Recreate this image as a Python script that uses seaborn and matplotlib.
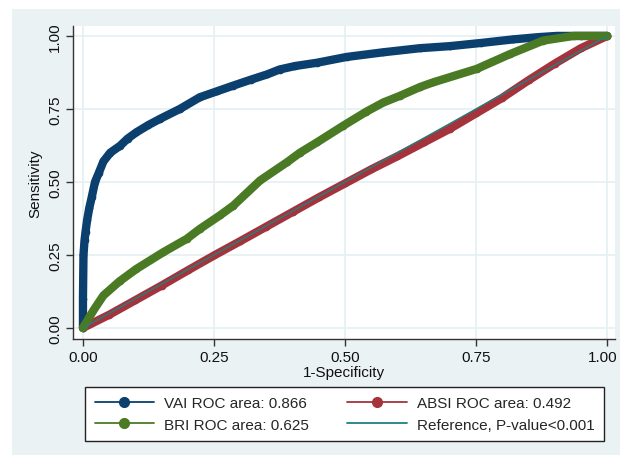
import pandas as pd
import seaborn as sns
import matplotlib.pyplot as plt
from matplotlib.lines import Line2D
from matplotlib.patches import Rectangle
from matplotlib.transforms import ScaledTranslation

sns.set_theme(style="white")
plt.rcParams["font.family"] = ["Liberation Sans", "DejaVu Sans"]

# ROC points
vai_fpr = [0, 0.0, 0.001, 0.003, 0.005, 0.008, 0.012, 0.017, 0.023, 0.030, 0.039, 0.052,
           0.071, 0.085, 0.102, 0.125, 0.147, 0.185, 0.223, 0.255, 0.287, 0.320, 0.351,
           0.375, 0.405, 0.446, 0.503, 0.573, 0.643, 0.700, 0.760, 0.820, 0.870, 0.904, 0.950, 1.0]
vai_tpr = [0, 0.10, 0.25, 0.30, 0.33, 0.37, 0.41, 0.45, 0.50, 0.53, 0.57, 0.60,
           0.624, 0.648, 0.67, 0.695, 0.716, 0.75, 0.79, 0.81, 0.83, 0.85, 0.868,
           0.885, 0.897, 0.908, 0.928, 0.944, 0.958, 0.965, 0.976, 0.988, 0.996, 1.0, 1.0, 1.0]

absi_fpr = [0, 0.05, 0.1, 0.15, 0.2, 0.25, 0.3, 0.35, 0.4, 0.45, 0.5, 0.55, 0.6, 0.65,
            0.7, 0.75, 0.8, 0.85, 0.9, 0.95, 1.0]
absi_tpr = [0, 0.045, 0.095, 0.145, 0.197, 0.248, 0.297, 0.347, 0.397, 0.447, 0.495,
            0.543, 0.588, 0.635, 0.682, 0.735, 0.788, 0.848, 0.905, 0.958, 1.0]

bri_fpr = [0, 0.02, 0.039, 0.07, 0.102, 0.153, 0.198, 0.223, 0.261, 0.287, 0.338, 0.389,
           0.414, 0.446, 0.497, 0.540, 0.573, 0.605, 0.643, 0.668, 0.751, 0.815, 0.878, 0.936, 1.0]
bri_tpr = [0, 0.06, 0.111, 0.16, 0.202, 0.259, 0.305, 0.339, 0.385, 0.419, 0.505, 0.567,
           0.60, 0.635, 0.693, 0.74, 0.772, 0.795, 0.825, 0.841, 0.887, 0.938, 0.984, 1.0, 1.0]

ref_x = [0, 1]
ref_y = [0, 1]

labels = ["VAI ROC area: 0.866", "ABSI ROC area: 0.492",
          "BRI ROC area: 0.625", "Reference, P-value<0.001"]
colors = ["#0b3f6e", "#a5333b", "#4b7a25", "#1f8080"]
ticks = [0, 0.25, 0.5, 0.75, 1.0]
tick_labels = ["0.00", "0.25", "0.50", "0.75", "1.00"]

fig = plt.figure(figsize=(6.2, 4.56), dpi=100)
fig.patch.set_facecolor("white")
fig.patches.append(Rectangle((12 / 620, 0), 1, 1 - 10 / 456, transform=fig.transFigure,
                             facecolor="#eaf2f3", edgecolor="none", zorder=-10))

ax = fig.add_axes([73 / 620, 1 - 340 / 456, (615 - 73) / 620, (340 - 27) / 456])
ax.set_facecolor("white")

curves = [(vai_fpr, vai_tpr), (absi_fpr, absi_tpr), (bri_fpr, bri_tpr)]
for (fx, ty), c in zip(curves, colors[:3]):
    df = pd.DataFrame({"fpr": fx, "tpr": ty})
    sns.lineplot(data=df, x="fpr", y="tpr", ax=ax, sort=False, estimator=None,
                 color=c, linewidth=6, marker="o", markersize=5.5,
                 markeredgewidth=0, solid_capstyle="round", solid_joinstyle="round")

sns.lineplot(x=ref_x, y=ref_y, ax=ax, color=colors[3], linewidth=1)

ax.set_xlim(-0.019, 1.015)
ax.set_ylim(-0.038, 1.034)
ax.set_xticks(ticks)
ax.set_xticklabels(tick_labels)
ax.set_yticks(ticks)
ax.set_yticklabels(tick_labels, rotation=90, va="center")
ax.grid(True, color="#e6f0f2", linewidth=1.3)
ax.set_axisbelow(True)
for s in ["top", "right"]:
    ax.spines[s].set_visible(False)
for s in ["left", "bottom"]:
    ax.spines[s].set_color("#333333")
    ax.spines[s].set_linewidth(1)
ax.tick_params(axis="both", direction="out", length=5, width=1, color="#333333",
               labelsize=11, labelcolor="#111111", pad=3, left=True, bottom=True)
ax.set_xlabel("1-Specificity", fontsize=11, color="#111111", labelpad=1)
ax.set_ylabel("Sensitivity", fontsize=11, color="#111111", labelpad=4)

# keep the last x label inside the figure edge
last = ax.get_xticklabels()[-1]
last.set_transform(last.get_transform() + ScaledTranslation(-4 / 100, 0, fig.dpi_scale_trans))

handles = [
    Line2D([], [], color=colors[0], lw=1.3, marker="o", markersize=7),
    Line2D([], [], color=colors[2], lw=1.3, marker="o", markersize=7),
    Line2D([], [], color=colors[1], lw=1.3, marker="o", markersize=7),
    Line2D([], [], color=colors[3], lw=1.3),
]
order = [labels[0], labels[2], labels[1], labels[3]]
leg = fig.legend(handles, order, ncol=2, loc="upper center",
                 bbox_to_anchor=((86 + 603) / 2 / 620, 1 - 388 / 456),
                 frameon=True, fancybox=False, edgecolor="#222222", framealpha=1,
                 fontsize=11, handlelength=3.9, handletextpad=0.65, labelspacing=0.5,
                 columnspacing=2.5, borderaxespad=0, borderpad=0.6)
leg.get_frame().set_linewidth(1)

fig.savefig("out.png", dpi=100)
